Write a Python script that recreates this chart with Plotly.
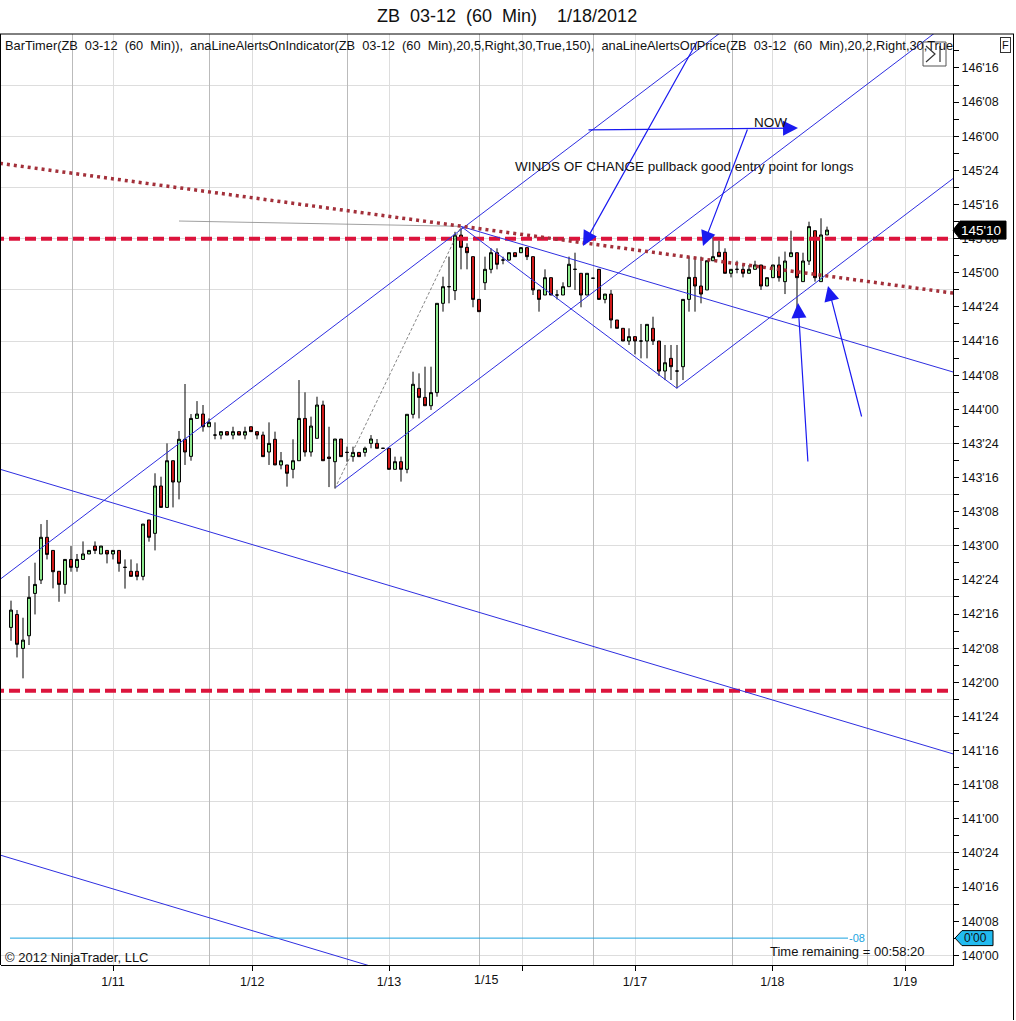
import plotly.graph_objects as go

# ---------------- data (ZB 03-12, 60 min bars) ----------------
opens = [142.402, 142.497, 142.248, 142.341, 142.651, 142.749, 143.062, 142.966, 142.813, 142.717,
         142.900, 142.842, 142.900, 142.940, 142.998, 142.940, 142.966, 142.940, 142.966, 142.842,
         142.813, 142.813, 142.776, 143.189, 143.091, 143.438, 143.281, 143.623, 143.467, 143.780,
         143.655, 143.933, 143.965, 143.872, 143.811, 143.811, 143.836, 143.811, 143.836, 143.811,
         143.872, 143.836, 143.811, 143.687, 143.780, 143.592, 143.592, 143.560, 143.623, 143.933,
         143.687, 143.787, 144.031, 143.650, 143.616, 143.782, 143.684, 143.653, 143.684, 143.684,
         143.750, 143.750, 143.714, 143.714, 143.560, 143.616, 143.560, 143.963, 144.153, 144.087,
         144.026, 144.122, 144.776, 144.898, 144.869, 145.276, 145.186, 145.118, 144.805, 144.927,
         145.025, 145.147, 145.093, 145.093, 145.147, 145.147, 145.184, 145.118, 144.874, 144.837,
         144.964, 144.837, 144.837, 144.898, 145.025, 144.996, 144.837, 144.960, 145.025, 144.805,
         144.844, 144.654, 144.593, 144.500, 144.532, 144.500, 144.500, 144.593, 144.500, 144.280,
         144.373, 144.280, 144.312, 144.805, 144.966, 144.903, 144.874, 145.088, 145.150, 145.150,
         144.996, 145.025, 145.025, 144.996, 145.025, 145.057, 144.903, 144.964, 145.057, 144.935,
         145.118, 145.147, 144.935, 145.086, 145.308, 144.935, 145.277]
highs = [142.598, 142.529, 142.473, 142.778, 142.876, 143.159, 143.189, 142.966, 142.813, 142.900,
         142.998, 142.940, 143.032, 142.966, 143.032, 142.998, 142.966, 142.966, 142.966, 142.900,
         142.900, 142.871, 143.159, 143.189, 143.531, 143.506, 143.750, 143.623, 143.841, 144.185,
         143.965, 144.060, 144.031, 143.933, 143.904, 143.836, 143.836, 143.872, 143.836, 143.872,
         143.872, 143.836, 143.836, 143.904, 143.836, 143.687, 143.592, 143.780, 144.214, 144.124,
         143.946, 144.092, 144.063, 143.872, 143.782, 143.782, 143.726, 143.726, 143.684, 143.726,
         143.811, 143.782, 143.714, 143.714, 143.653, 143.653, 143.963, 144.275, 144.263, 144.312,
         144.312, 144.776, 144.971, 145.118, 145.300, 145.330, 145.216, 145.118, 144.805, 145.118,
         145.179, 145.179, 145.118, 145.147, 145.147, 145.184, 145.184, 145.118, 144.874, 145.025,
         144.964, 144.874, 144.930, 145.118, 145.147, 144.996, 144.996, 144.960, 145.025, 144.844,
         144.874, 144.654, 144.593, 144.593, 144.532, 144.625, 144.622, 144.678, 144.500, 144.471,
         144.471, 144.471, 144.805, 145.118, 145.118, 145.118, 145.088, 145.277, 145.235, 145.179,
         145.025, 145.088, 145.057, 145.057, 145.088, 145.057, 144.964, 145.057, 145.118, 145.155,
         145.308, 145.147, 145.147, 145.374, 145.308, 145.399, 145.338]
lows = [142.304, 142.182, 142.029, 142.273, 142.497, 142.720, 142.900, 142.688, 142.590, 142.649,
        142.810, 142.810, 142.900, 142.940, 142.940, 142.940, 142.871, 142.900, 142.810, 142.686,
        142.776, 142.747, 142.747, 143.030, 142.966, 143.281, 143.281, 143.281, 143.340, 143.592,
        143.623, 143.933, 143.836, 143.872, 143.780, 143.780, 143.811, 143.780, 143.811, 143.780,
        143.836, 143.780, 143.653, 143.592, 143.592, 143.560, 143.433, 143.494, 143.623, 143.653,
        143.653, 143.787, 143.623, 143.430, 143.420, 143.653, 143.616, 143.616, 143.653, 143.653,
        143.714, 143.714, 143.714, 143.560, 143.560, 143.470, 143.531, 143.933, 143.933, 144.026,
        143.995, 144.092, 144.715, 144.776, 144.800, 145.025, 145.025, 144.747, 144.715, 144.874,
        144.996, 145.025, 145.062, 145.089, 145.118, 145.147, 145.093, 144.837, 144.715, 144.837,
        144.837, 144.805, 144.837, 144.898, 144.874, 144.747, 144.837, 144.960, 144.805, 144.776,
        144.593, 144.593, 144.500, 144.471, 144.402, 144.373, 144.373, 144.471, 144.244, 144.214,
        144.214, 144.153, 144.214, 144.715, 144.715, 144.776, 144.874, 145.088, 145.118, 144.996,
        144.966, 144.996, 144.966, 144.996, 145.025, 144.874, 144.903, 144.964, 144.935, 144.844,
        145.118, 144.727, 144.935, 145.057, 144.935, 144.935, 145.277]
closes = [142.529, 142.278, 142.309, 142.622, 142.717, 143.062, 142.937, 142.810, 142.717, 142.900,
          142.842, 142.900, 142.940, 142.966, 142.966, 142.998, 142.940, 142.966, 142.871, 142.842,
          142.776, 142.776, 143.159, 143.062, 143.438, 143.281, 143.623, 143.467, 143.780, 143.687,
          143.933, 143.965, 143.872, 143.904, 143.811, 143.836, 143.811, 143.836, 143.811, 143.836,
          143.836, 143.811, 143.653, 143.750, 143.592, 143.623, 143.531, 143.623, 143.933, 143.687,
          143.877, 144.031, 143.623, 143.640, 143.782, 143.653, 143.684, 143.684, 143.653, 143.714,
          143.782, 143.714, 143.714, 143.560, 143.616, 143.560, 143.963, 144.183, 144.087, 144.026,
          144.122, 144.776, 144.898, 144.898, 145.276, 145.186, 145.147, 144.805, 144.715, 145.025,
          145.147, 145.062, 145.093, 145.147, 145.118, 145.184, 145.118, 144.874, 144.805, 144.964,
          144.837, 144.837, 144.898, 145.062, 145.025, 144.837, 144.996, 144.960, 144.805, 144.844,
          144.654, 144.593, 144.500, 144.532, 144.500, 144.500, 144.622, 144.500, 144.280, 144.341,
          144.312, 144.280, 144.805, 144.966, 144.903, 144.844, 145.088, 145.118, 145.118, 144.996,
          145.025, 145.025, 144.996, 145.025, 145.057, 144.903, 144.964, 145.057, 144.964, 145.086,
          145.147, 144.964, 145.086, 145.338, 144.964, 145.277, 145.3125]
bars = list(range(len(opens)))

# axis labels
price_labels = [140 + 0.25 * k for k in range(27)]
grid_prices = [140 + 0.375 * k for k in range(19)]
date_tick_pos = [17, 40.2, 63, 85.2, 104, 126.9, 149]
date_tick_text = ["1/11", "1/12", "1/13", "", "1/17", "1/18", "1/19"]
extra_date_label = ("1/15", 79.2)
session_breaks = [10.17, 33, 56, 78, 97, 120.17, 142.83]

# drawings (bar index, price)
red_dashed_levels = [145.25, 141.9375]
dotted_trend = ([-3, 160], [145.808, 144.833])
channel_upper = ([-3, 125], [142.715, 146.984])
channel_lower = ([54, 160], [143.423, 146.958])
channel_third = ([111, 160], [144.156, 145.790])
v_left_arm = ([75, 111], [145.34, 144.153])
peak_down = ([75, 160], [145.34, 144.234])
long_down = ([-3, 160], [143.576, 141.436])
bottom_down = ([-3, 70], [140.750, 139.788])
grey_dash_diag = ([54, 75], [143.42, 145.34])
grey_flat = ([28, 75], [145.379, 145.34])
timer_line = ([-0.17, 139.5], [140.126, 140.126])
last_price = 145.3125

arrows = [  # (tail_bar, tail_price, tip_bar, tip_price)
    (96.0, 146.046, 131.17, 146.060),
    (114.5, 146.705, 95.33, 145.196),
    (122.83, 146.060, 115.33, 145.196),
    (132.83, 143.606, 131.17, 144.778),
    (141.83, 143.936, 136.17, 144.903),
]

# ---------------- figure ----------------
W, H = 1016, 1021
L, R, T, B = 1, 63, 34, 56
X0 = (1 - 11) / 6
X1 = (953 - 11) / 6
YR = [139.929, 146.749]


def px_x(px):
    return (px - L) / (W - L - R)


def px_y(py):
    return (H - B - py) / (H - T - B)


def fmt32(p):
    whole = int(p)
    frac = int(round((p - whole) * 32))
    return f"{whole}'{frac:02d}"


BLUE = "#2E2EE0"
FONT = "Liberation Sans, Arial"
fig = go.Figure()

fig.add_trace(go.Scatter(x=[X0], y=[YR[0]], xaxis="x2", yaxis="y", mode="markers",
                         marker=dict(opacity=0), hoverinfo="skip", showlegend=False))
fig.add_trace(go.Scatter(x=[X0], y=[YR[0]], xaxis="x", yaxis="y2", mode="markers",
                         marker=dict(opacity=0), hoverinfo="skip", showlegend=False))

for lvl in red_dashed_levels:
    fig.add_trace(go.Scatter(x=[-3, 160], y=[lvl, lvl], mode="lines",
                             line=dict(color="#DC143C", width=4, dash="11px,5px"),
                             hoverinfo="skip", showlegend=False))

for (xs, ys), col, wd, dash in [
    (channel_upper, BLUE, 1, "solid"),
    (channel_lower, BLUE, 1, "solid"),
    (channel_third, BLUE, 1, "solid"),
    (v_left_arm, BLUE, 1, "solid"),
    (peak_down, BLUE, 1, "solid"),
    (long_down, BLUE, 1, "solid"),
    (bottom_down, BLUE, 1, "solid"),
    (grey_dash_diag, "#666666", 0.8, "3px,2px"),
    (grey_flat, "#888888", 0.8, "solid"),
    (timer_line, "#1AA3E0", 1, "solid"),
]:
    fig.add_trace(go.Scatter(x=xs, y=ys, mode="lines", line=dict(color=col, width=wd, dash=dash),
                             hoverinfo="skip", showlegend=False))

fig.add_trace(go.Candlestick(
    x=bars, open=opens, high=highs, low=lows, close=closes,
    increasing=dict(fillcolor="#90EE90", line=dict(color="black", width=1)),
    decreasing=dict(fillcolor="#D41A1A", line=dict(color="black", width=1)),
    whiskerwidth=0, hoverinfo="skip", showlegend=False))

fig.add_trace(go.Scatter(x=dotted_trend[0], y=dotted_trend[1], mode="lines",
                         line=dict(color="#A3303A", width=3.5, dash="3px,4px"),
                         hoverinfo="skip", showlegend=False))

annotations = []
for tb, tp, hb, hp_ in arrows:
    annotations.append(dict(x=hb, y=hp_, ax=tb, ay=tp, xref="x", yref="y", axref="x", ayref="y",
                            text="", showarrow=True, arrowhead=2, arrowsize=2.5, arrowwidth=1.2,
                            arrowcolor="#1A1AF0"))

note_font = dict(family=FONT, size=13.5, color="#111111")
small_font = dict(family=FONT, size=13, color="#111111")
annotations += [
    dict(x=123.5, y=146.104, xref="x", yref="y", text="NOW", showarrow=False,
         xanchor="left", yanchor="middle", font=note_font),
    dict(x=83.67, y=145.775, xref="x", yref="y",
         text="WINDS OF CHANGE pullback good entry point for longs", showarrow=False,
         xanchor="left", yanchor="middle", font=note_font),
    dict(x=px_x(507), y=px_y(16), xref="paper", yref="paper",
         text="ZB  03-12  (60  Min)    1/18/2012", showarrow=False, xanchor="center", yanchor="middle",
         font=dict(family=FONT, size=18, color="#111111")),
    dict(x=px_x(3), y=px_y(45), xref="paper", yref="paper",
         text="BarTimer(ZB  03-12  (60  Min)),  anaLineAlertsOnIndicator(ZB  03-12  (60  Min),20,5,Right,30,True,150),"
              "  anaLineAlertsOnPrice(ZB  03-12  (60  Min),20,2,Right,30,True,150)",
         showarrow=False, xanchor="left", yanchor="middle", align="left", width=948,
         font=dict(family=FONT, size=12.8, color="#111111")),
    dict(x=px_x(1005), y=px_y(45), xref="paper", yref="paper", text="F", showarrow=False,
         xanchor="center", yanchor="middle", bordercolor="#333333", borderwidth=1, borderpad=1,
         font=dict(family=FONT, size=11, color="#111111")),
    dict(x=px_x(3), y=px_y(957), xref="paper", yref="paper", text="© 2012 NinjaTrader, LLC",
         showarrow=False, xanchor="left", yanchor="middle", font=small_font),
    dict(x=px_x(768), y=px_y(951), xref="paper", yref="paper", text="Time remaining = 00:58:20",
         showarrow=False, xanchor="left", yanchor="middle", font=small_font),
    dict(x=extra_date_label[1], y=px_y(980), xref="x", yref="paper", text=extra_date_label[0],
         showarrow=False, xanchor="center", yanchor="middle",
         font=dict(family=FONT, size=12.5, color="#111111")),
    dict(x=139.3, y=timer_line[1][0], xref="x", yref="y", text="-08", showarrow=False,
         xanchor="left", yanchor="middle",
         font=dict(family=FONT, size=11, color="#1AA3E0")),
    dict(x=px_x(981), y=last_price, xref="paper", yref="y", text=fmt32(last_price), showarrow=False,
         xanchor="center", yanchor="middle",
         font=dict(family=FONT, size=13.5, color="white")),
    dict(x=px_x(976), y=timer_line[1][0], xref="paper", yref="y", text="0'00", showarrow=False,
         xanchor="center", yanchor="middle",
         font=dict(family=FONT, size=12, color="#111111")),
]

hp = 9 / 136.5
hc = 7.5 / 136.5
tl = timer_line[1][0]
shapes = [
    dict(type="path", xref="paper", yref="y", fillcolor="black", line=dict(color="black", width=1),
         path=f"M {px_x(953)},{last_price} L {px_x(960)},{last_price + hp} L {px_x(1006)},{last_price + hp} "
              f"L {px_x(1006)},{last_price - hp} L {px_x(960)},{last_price - hp} Z"),
    dict(type="path", xref="paper", yref="y", fillcolor="#22BBF0", line=dict(color="black", width=1),
         path=f"M {px_x(955)},{tl} L {px_x(962)},{tl + hc} L {px_x(993)},{tl + hc} "
              f"L {px_x(993)},{tl - hc} L {px_x(962)},{tl - hc} Z"),
    # frame
    dict(type="line", xref="paper", yref="paper", x0=px_x(0), x1=px_x(1014), y0=px_y(34), y1=px_y(34),
         line=dict(color="black", width=1)),
    dict(type="line", xref="paper", yref="paper", x0=px_x(0.5), x1=px_x(0.5), y0=px_y(34), y1=px_y(965),
         line=dict(color="black", width=1)),
    dict(type="line", xref="paper", yref="paper", x0=px_x(1013.5), x1=px_x(1013.5), y0=px_y(34), y1=px_y(1020),
         line=dict(color="black", width=1)),
    # scroll icon
    dict(type="rect", xref="paper", yref="paper", x0=px_x(923), x1=px_x(946), y0=px_y(66), y1=px_y(42),
         line=dict(color="#555555", width=1), fillcolor="rgba(255,255,255,0.6)"),
    dict(type="path", xref="paper", yref="paper", line=dict(color="#333333", width=1.2),
         path=f"M {px_x(926)},{px_y(46)} L {px_x(935)},{px_y(54)} L {px_x(926)},{px_y(62)}"),
    dict(type="line", xref="paper", yref="paper", x0=px_x(940), x1=px_x(940), y0=px_y(46), y1=px_y(62),
         line=dict(color="#333333", width=1.2)),
]

fig.update_layout(
    width=W, height=H, margin=dict(l=L, r=R, t=T, b=B, pad=0),
    paper_bgcolor="white", plot_bgcolor="white", showlegend=False,
    annotations=annotations, shapes=shapes,
    xaxis=dict(range=[X0, X1], tickmode="array", tickvals=date_tick_pos, ticktext=date_tick_text,
               ticks="outside", ticklen=5, tickcolor="black", showgrid=True, gridcolor="#DDDDDD",
               gridwidth=1, showline=True, linecolor="black", linewidth=1, zeroline=False,
               rangeslider=dict(visible=False), fixedrange=True,
               tickfont=dict(family=FONT, size=12.5, color="#111111")),
    xaxis2=dict(range=[X0, X1], overlaying="x", anchor="y", tickmode="array", tickvals=session_breaks,
                showticklabels=False, ticks="", showgrid=True, gridcolor="#BBBBBB", gridwidth=1,
                showline=False, zeroline=False),
    yaxis=dict(range=YR, side="right", tickmode="array", tickvals=price_labels,
               ticktext=[fmt32(p) for p in price_labels], ticks="outside", ticklen=5, tickcolor="black",
               showgrid=False, showline=True, linecolor="black", linewidth=1, zeroline=False,
               fixedrange=True,
               minor=dict(tickmode="linear", tick0=140.125, dtick=0.25, ticks="outside", ticklen=5,
                          tickcolor="black", showgrid=False),
               tickfont=dict(family=FONT, size=12.5, color="#111111")),
    yaxis2=dict(range=YR, overlaying="y", anchor="x", side="right", tickmode="array", tickvals=grid_prices,
                showticklabels=False, ticks="", showgrid=True, gridcolor="#DDDDDD", gridwidth=1,
                showline=False, zeroline=False),
)

fig.write_html("out.html", config={"displayModeBar": False},
               post_script="document.body.style.margin='0';document.body.style.overflow='hidden';")
